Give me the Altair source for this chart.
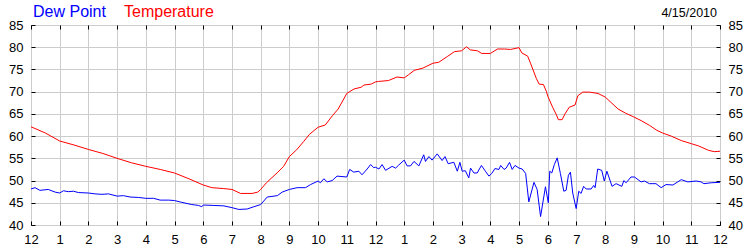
import altair as alt
import pandas as pd

# Temperature readings (hour of day, °F)
temp_hours = [0, 0.5, 1.0, 1.5, 2.0, 2.5, 3.0, 3.5, 4.0, 4.5, 5.0, 5.5, 6.0, 6.3, 6.7, 7.0, 7.3, 7.7, 7.9, 8.0,
              8.2, 8.6, 8.8, 9.0, 9.25, 9.5, 9.7, 10.0, 10.25, 10.5, 10.7, 11.0, 11.25, 11.5, 11.6, 11.85, 12.0,
              12.1, 12.45, 12.75, 13.0, 13.15, 13.35, 13.65, 14.0, 14.2, 14.5, 14.75, 15.0, 15.17, 15.3, 15.55,
              15.7, 16.0, 16.25, 16.5, 16.7, 17.0, 17.1, 17.3, 17.4, 17.6, 17.7, 17.85, 17.95, 18.0, 18.17, 18.3,
              18.37, 18.5, 18.6, 18.75, 18.95, 19.05, 19.22, 19.45, 19.75, 20.0, 20.2, 20.45, 20.7, 21.0, 21.25,
              21.55, 21.8, 22.0, 22.3, 22.65, 23.0, 23.25, 23.6, 23.8, 24.0]
temp_values = [62.1, 60.7, 58.9, 58.0, 57.0, 56.1, 55.0, 54.0, 53.2, 52.5, 51.7, 50.4, 49.0, 48.4, 48.2, 48.0,
               47.1, 47.1, 47.4, 48.0, 49.5, 51.9, 53.2, 55.4, 56.9, 58.8, 60.4, 62.0, 62.5, 64.6, 66.1, 69.6,
               70.6, 71.0, 71.5, 71.7, 72.2, 72.3, 72.5, 73.3, 73.1, 73.8, 74.8, 75.3, 76.4, 76.6, 77.9, 79.0,
               79.2, 80.1, 79.4, 79.2, 78.6, 78.6, 79.6, 79.6, 79.5, 79.9, 78.7, 78.0, 76.4, 73.0, 71.7, 71.6,
               70.1, 69.0, 66.5, 64.8, 63.7, 63.7, 65.0, 66.5, 67.0, 69.1, 69.9, 69.9, 69.6, 68.8, 67.6, 66.1,
               65.2, 64.3, 63.5, 62.4, 61.3, 60.7, 60.0, 59.0, 58.3, 57.8, 56.8, 56.5, 56.6]

# Dew point readings (hour of day, °F)
dew_hours = [0, 0.14, 0.31, 0.6, 0.84, 1.0, 1.13, 1.3, 1.48, 1.65, 2.0, 2.23, 2.47, 2.7, 3.0, 3.22, 3.45, 3.75,
             4.0, 4.27, 4.5, 4.8, 5.0, 5.25, 5.6, 5.84, 5.95, 6.0, 6.37, 6.72, 7.0, 7.24, 7.53, 7.76, 8.0, 8.23,
             8.58, 8.75, 9.0, 9.27, 9.56, 9.74, 10.0, 10.08, 10.2, 10.32, 10.49, 10.66, 11.0, 11.1, 11.24, 11.42,
             11.53, 11.71, 11.83, 11.94, 12.0, 12.12, 12.23, 12.35, 12.58, 12.7, 12.81, 13.0, 13.1, 13.22, 13.34,
             13.51, 13.68, 13.74, 13.86, 13.97, 14.15, 14.32, 14.42, 14.53, 14.73, 14.85, 14.94, 15.02, 15.13,
             15.25, 15.31, 15.43, 15.54, 15.69, 15.83, 15.95, 16.05, 16.16, 16.3, 16.36, 16.48, 16.55, 16.67,
             16.76, 16.86, 17.0, 17.11, 17.23, 17.34, 17.52, 17.63, 17.75, 17.92, 18.02, 18.07, 18.14, 18.23,
             18.33, 18.44, 18.56, 18.64, 18.72, 18.79, 18.87, 18.99, 19.08, 19.16, 19.25, 19.34, 19.51, 19.6,
             19.65, 19.74, 19.88, 19.97, 20.06, 20.24, 20.38, 20.58, 20.65, 20.73, 20.9, 21.02, 21.25, 21.37,
             21.54, 21.77, 21.95, 22.12, 22.36, 22.65, 22.88, 23.17, 23.34, 23.44, 23.69, 24.0]
dew_values = [48.1, 48.4, 47.8, 48.0, 47.4, 47.2, 47.7, 47.5, 47.6, 47.3, 47.2, 47.0, 46.9, 47.0, 46.5, 46.6,
              46.3, 46.2, 46.0, 46.0, 45.6, 45.6, 45.5, 45.1, 44.6, 44.4, 44.1, 44.5, 44.4, 44.3, 43.9, 43.5,
              43.6, 44.1, 44.6, 46.3, 46.6, 47.4, 48.0, 48.4, 48.4, 49.1, 49.9, 49.5, 50.4, 49.7, 50.0, 51.0,
              50.8, 52.5, 51.9, 52.1, 51.3, 52.6, 53.6, 52.9, 53.0, 52.6, 53.6, 52.3, 53.2, 52.8, 53.5, 54.6,
              53.3, 53.3, 54.3, 53.3, 55.8, 54.3, 55.4, 54.6, 56.0, 54.5, 55.4, 53.8, 54.1, 52.1, 54.1, 52.1,
              52.2, 50.6, 52.8, 51.7, 51.7, 53.4, 52.1, 51.0, 51.6, 52.7, 52.5, 53.4, 52.5, 52.8, 54.1, 52.5,
              53.4, 52.8, 52.6, 51.6, 45.2, 49.6, 48.0, 41.9, 48.6, 45.0, 52.1, 51.7, 53.6, 55.1, 51.6, 47.6,
              47.8, 51.2, 51.9, 47.2, 43.7, 47.6, 47.1, 48.7, 48.1, 48.1, 48.9, 48.4, 52.6, 52.3, 49.9, 52.1,
              48.7, 49.3, 48.7, 50.0, 49.5, 50.8, 50.8, 49.7, 49.9, 49.3, 49.3, 48.4, 49.1, 49.0, 50.2, 49.7,
              49.9, 49.7, 49.3, 49.5, 49.6]

hour_ticks = list(range(0, 25))
y_ticks = list(range(40, 86, 5))
legend_labels = ["Dew Point", "Temperature"]
date_label = "4/15/2010"

temp_df = pd.DataFrame({"hour": temp_hours, "value": temp_values})
dew_df = pd.DataFrame({"hour": dew_hours, "value": dew_values})

FONT = "Liberation Sans"
label_expr = "datum.value % 12 == 0 ? '12' : '' + (datum.value % 12)"

x_scale = alt.Scale(domain=[0, 24], nice=False, zero=False)
y_scale = alt.Scale(domain=[40, 85], nice=False, zero=False)

common_axis = dict(domain=False, tickColor="black", tickSize={"expr": "-4"}, labelFont=FONT,
                   labelFontSize=13, labelColor="black", gridColor="#cccccc")

temp_line = alt.Chart(temp_df).mark_line(color="#ff0000", strokeWidth=1).encode(
    x=alt.X("hour:Q", scale=x_scale, title=None,
            axis=alt.Axis(values=hour_ticks, labelExpr=label_expr, orient="bottom", grid=True,
                          labelPadding=12, labelFlush=False, **common_axis)),
    y=alt.Y("value:Q", scale=y_scale, title=None,
            axis=alt.Axis(values=y_ticks, orient="left", grid=True, labelPadding=12, **common_axis)),
)

dew_line = alt.Chart(dew_df).mark_line(color="#0000ff", strokeWidth=1).encode(
    x=alt.X("hour:Q", scale=x_scale, title=None,
            axis=alt.Axis(values=hour_ticks, orient="top", grid=False, labels=False, **common_axis)),
    y=alt.Y("value:Q", scale=y_scale, title=None,
            axis=alt.Axis(values=y_ticks, orient="right", grid=False, labelPadding=12, **common_axis)),
)

one = alt.Data(values=[{"a": 1}])
dew_title = alt.Chart(one).mark_text(text=legend_labels[0], color="#0000ff", font=FONT, fontSize=16,
                                     align="left", baseline="alphabetic").encode(
    x=alt.value(2), y=alt.value(-8))
temp_title = alt.Chart(one).mark_text(text=legend_labels[1], color="#ff0000", font=FONT, fontSize=16,
                                      align="left", baseline="alphabetic").encode(
    x=alt.value(93), y=alt.value(-8))
date_text = alt.Chart(one).mark_text(text=date_label, color="black", font=FONT, fontSize=12.5,
                                     align="right", baseline="alphabetic").encode(
    x=alt.value(686), y=alt.value(-8))

chart = alt.layer(temp_line, dew_line, dew_title, temp_title, date_text).resolve_axis(
    x="independent", y="independent"
).resolve_scale(x="shared", y="shared").properties(
    width=689, height=200,
    autosize=alt.AutoSizeParams(type="none"),
    padding={"left": 31, "top": 25, "right": 30, "bottom": 25},
    background="white",
).configure_view(stroke="black", strokeWidth=1)

chart.save("out.html", embed_options={"renderer": "svg", "actions": False})
